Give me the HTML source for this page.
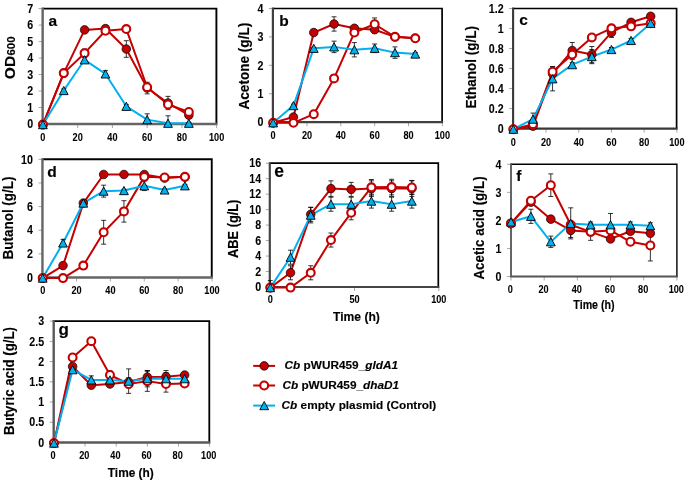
<!DOCTYPE html>
<html><head><meta charset="utf-8"><style>
html,body{margin:0;padding:0;background:#fff;width:685px;height:482px;overflow:hidden}
svg text{font-family:"Liberation Sans", sans-serif;fill:#000;stroke:#000;stroke-width:0.15px}
svg text.t{stroke-width:0.08px}
svg{will-change:transform}
</style></head><body>
<svg width="685" height="482" viewBox="0 0 685 482" style="position:absolute;left:0;top:0"><g><path d="M42.65 8.6 H216.4 V124" fill="none" stroke="#000" stroke-width="1.9"/><line x1="38.65" y1="124" x2="42.65" y2="124" stroke="#A8A8A8" stroke-width="1"/><line x1="38.65" y1="107.51" x2="42.65" y2="107.51" stroke="#A8A8A8" stroke-width="1"/><line x1="38.65" y1="91.03" x2="42.65" y2="91.03" stroke="#A8A8A8" stroke-width="1"/><line x1="38.65" y1="74.54" x2="42.65" y2="74.54" stroke="#A8A8A8" stroke-width="1"/><line x1="38.65" y1="58.06" x2="42.65" y2="58.06" stroke="#A8A8A8" stroke-width="1"/><line x1="38.65" y1="41.57" x2="42.65" y2="41.57" stroke="#A8A8A8" stroke-width="1"/><line x1="38.65" y1="25.09" x2="42.65" y2="25.09" stroke="#A8A8A8" stroke-width="1"/><line x1="38.65" y1="8.6" x2="42.65" y2="8.6" stroke="#A8A8A8" stroke-width="1"/><line x1="42.9" y1="124" x2="42.9" y2="128" stroke="#A8A8A8" stroke-width="1"/><line x1="77.65" y1="124" x2="77.65" y2="128" stroke="#A8A8A8" stroke-width="1"/><line x1="112.4" y1="124" x2="112.4" y2="128" stroke="#A8A8A8" stroke-width="1"/><line x1="147.15" y1="124" x2="147.15" y2="128" stroke="#A8A8A8" stroke-width="1"/><line x1="181.9" y1="124" x2="181.9" y2="128" stroke="#A8A8A8" stroke-width="1"/><line x1="216.65" y1="124" x2="216.65" y2="128" stroke="#A8A8A8" stroke-width="1"/><path d="M42.65 7.6 V124 H217.4" fill="none" stroke="#666" stroke-width="2.4"/><text transform="translate(33.15,128.2) scale(0.89,1)" class="t" text-anchor="end" font-size="12" font-weight="bold">0</text><text transform="translate(33.15,111.71) scale(0.89,1)" class="t" text-anchor="end" font-size="12" font-weight="bold">1</text><text transform="translate(33.15,95.23) scale(0.89,1)" class="t" text-anchor="end" font-size="12" font-weight="bold">2</text><text transform="translate(33.15,78.74) scale(0.89,1)" class="t" text-anchor="end" font-size="12" font-weight="bold">3</text><text transform="translate(33.15,62.26) scale(0.89,1)" class="t" text-anchor="end" font-size="12" font-weight="bold">4</text><text transform="translate(33.15,45.77) scale(0.89,1)" class="t" text-anchor="end" font-size="12" font-weight="bold">5</text><text transform="translate(33.15,29.29) scale(0.89,1)" class="t" text-anchor="end" font-size="12" font-weight="bold">6</text><text transform="translate(33.15,12.8) scale(0.89,1)" class="t" text-anchor="end" font-size="12" font-weight="bold">7</text><text transform="translate(42.9,140.9) scale(0.89,1)" class="t" text-anchor="middle" font-size="10.3" font-weight="bold">0</text><text transform="translate(77.65,140.9) scale(0.89,1)" class="t" text-anchor="middle" font-size="10.3" font-weight="bold">20</text><text transform="translate(112.4,140.9) scale(0.89,1)" class="t" text-anchor="middle" font-size="10.3" font-weight="bold">40</text><text transform="translate(147.15,140.9) scale(0.89,1)" class="t" text-anchor="middle" font-size="10.3" font-weight="bold">60</text><text transform="translate(181.9,140.9) scale(0.89,1)" class="t" text-anchor="middle" font-size="10.3" font-weight="bold">80</text><text transform="translate(216.65,140.9) scale(0.89,1)" class="t" text-anchor="middle" font-size="10.3" font-weight="bold">100</text><text x="48.6" y="25.8" font-size="15.5" font-weight="bold">a</text><text transform="translate(15,67.5) rotate(-90)" text-anchor="middle" font-weight="bold" font-size="15.5">OD</text><text transform="translate(15,46) rotate(-90)" text-anchor="middle" font-weight="bold" font-size="11.5">600</text><polyline points="42.9,124.6 63.75,73.1 84.6,29.9 105.45,28.57 126.3,49 147.15,88.05 168,103 188.85,115.13" fill="none" stroke="#C40000" stroke-width="2" stroke-linejoin="round"/><polyline points="42.9,124.6 63.75,73.1 84.6,53.16 105.45,30.73 126.3,29.07 147.15,87.22 168,104.5 188.85,111.97" fill="none" stroke="#C40000" stroke-width="2" stroke-linejoin="round"/><polyline points="42.9,124.6 63.75,90.54 84.6,59.8 105.45,73.93 126.3,106.32 147.15,119.62 168,123.27 188.85,123.27" fill="none" stroke="#00B0F0" stroke-width="2" stroke-linejoin="round"/><path d="M63.75 74.76 V71.43 M61.25 74.76 H66.25 M61.25 71.43 H66.25" stroke="#000" stroke-width="0.8" fill="none"/><path d="M84.6 31.56 V28.24 M82.1 31.56 H87.1 M82.1 28.24 H87.1" stroke="#000" stroke-width="0.8" fill="none"/><path d="M105.45 30.23 V26.91 M102.95 30.23 H107.95 M102.95 26.91 H107.95" stroke="#000" stroke-width="0.8" fill="none"/><path d="M126.3 57.31 V40.7 M123.8 57.31 H128.8 M123.8 40.7 H128.8" stroke="#000" stroke-width="0.8" fill="none"/><path d="M147.15 93.86 V82.23 M144.65 93.86 H149.65 M144.65 82.23 H149.65" stroke="#000" stroke-width="0.8" fill="none"/><path d="M168 109.65 V96.36 M165.5 109.65 H170.5 M165.5 96.36 H170.5" stroke="#000" stroke-width="0.8" fill="none"/><path d="M188.85 116.79 V113.47 M186.35 116.79 H191.35 M186.35 113.47 H191.35" stroke="#000" stroke-width="0.8" fill="none"/><path d="M63.75 74.76 V71.43 M61.25 74.76 H66.25 M61.25 71.43 H66.25" stroke="#000" stroke-width="0.8" fill="none"/><path d="M84.6 57.31 V49 M82.1 57.31 H87.1 M82.1 49 H87.1" stroke="#000" stroke-width="0.8" fill="none"/><path d="M105.45 33.22 V28.24 M102.95 33.22 H107.95 M102.95 28.24 H107.95" stroke="#000" stroke-width="0.8" fill="none"/><path d="M126.3 30.73 V27.41 M123.8 30.73 H128.8 M123.8 27.41 H128.8" stroke="#000" stroke-width="0.8" fill="none"/><path d="M147.15 88.88 V85.56 M144.65 88.88 H149.65 M144.65 85.56 H149.65" stroke="#000" stroke-width="0.8" fill="none"/><path d="M168 106.16 V102.84 M165.5 106.16 H170.5 M165.5 102.84 H170.5" stroke="#000" stroke-width="0.8" fill="none"/><path d="M188.85 113.63 V110.31 M186.35 113.63 H191.35 M186.35 110.31 H191.35" stroke="#000" stroke-width="0.8" fill="none"/><path d="M63.75 92.2 V88.88 M61.25 92.2 H66.25 M61.25 88.88 H66.25" stroke="#000" stroke-width="0.8" fill="none"/><path d="M84.6 62.3 V57.31 M82.1 62.3 H87.1 M82.1 57.31 H87.1" stroke="#000" stroke-width="0.8" fill="none"/><path d="M105.45 77.25 V70.6 M102.95 77.25 H107.95 M102.95 70.6 H107.95" stroke="#000" stroke-width="0.8" fill="none"/><path d="M126.3 107.99 V104.66 M123.8 107.99 H128.8 M123.8 104.66 H128.8" stroke="#000" stroke-width="0.8" fill="none"/><path d="M147.15 124.6 V113.8 M144.65 113.8 H149.65" stroke="#000" stroke-width="0.8" fill="none"/><path d="M168 124.6 V115.79 M165.5 115.79 H170.5" stroke="#000" stroke-width="0.8" fill="none"/><path d="M188.85 124.1 V122.44 M186.35 124.1 H191.35 M186.35 122.44 H191.35" stroke="#000" stroke-width="0.8" fill="none"/><circle cx="42.9" cy="124.6" r="4.3" fill="#C40000" stroke="#000" stroke-width="0.7"/><circle cx="63.75" cy="73.1" r="4.3" fill="#C40000" stroke="#000" stroke-width="0.7"/><circle cx="84.6" cy="29.9" r="4.3" fill="#C40000" stroke="#000" stroke-width="0.7"/><circle cx="105.45" cy="28.57" r="4.3" fill="#C40000" stroke="#000" stroke-width="0.7"/><circle cx="126.3" cy="49" r="4.3" fill="#C40000" stroke="#000" stroke-width="0.7"/><circle cx="147.15" cy="88.05" r="4.3" fill="#C40000" stroke="#000" stroke-width="0.7"/><circle cx="168" cy="103" r="4.3" fill="#C40000" stroke="#000" stroke-width="0.7"/><circle cx="188.85" cy="115.13" r="4.3" fill="#C40000" stroke="#000" stroke-width="0.7"/><circle cx="42.9" cy="124.6" r="3.95" fill="#fff" stroke="#C40000" stroke-width="2.1"/><circle cx="63.75" cy="73.1" r="3.95" fill="#fff" stroke="#C40000" stroke-width="2.1"/><circle cx="84.6" cy="53.16" r="3.95" fill="#fff" stroke="#C40000" stroke-width="2.1"/><circle cx="105.45" cy="30.73" r="3.95" fill="#fff" stroke="#C40000" stroke-width="2.1"/><circle cx="126.3" cy="29.07" r="3.95" fill="#fff" stroke="#C40000" stroke-width="2.1"/><circle cx="147.15" cy="87.22" r="3.95" fill="#fff" stroke="#C40000" stroke-width="2.1"/><circle cx="168" cy="104.5" r="3.95" fill="#fff" stroke="#C40000" stroke-width="2.1"/><circle cx="188.85" cy="111.97" r="3.95" fill="#fff" stroke="#C40000" stroke-width="2.1"/><path d="M42.9 120.5 L47.3 128.7 L38.5 128.7 Z" fill="#00B0F0" stroke="#000" stroke-width="0.9" stroke-linejoin="round"/><path d="M63.75 86.44 L68.15 94.64 L59.35 94.64 Z" fill="#00B0F0" stroke="#000" stroke-width="0.9" stroke-linejoin="round"/><path d="M84.6 55.7 L89 63.9 L80.2 63.9 Z" fill="#00B0F0" stroke="#000" stroke-width="0.9" stroke-linejoin="round"/><path d="M105.45 69.83 L109.85 78.03 L101.05 78.03 Z" fill="#00B0F0" stroke="#000" stroke-width="0.9" stroke-linejoin="round"/><path d="M126.3 102.22 L130.7 110.42 L121.9 110.42 Z" fill="#00B0F0" stroke="#000" stroke-width="0.9" stroke-linejoin="round"/><path d="M147.15 115.52 L151.55 123.72 L142.75 123.72 Z" fill="#00B0F0" stroke="#000" stroke-width="0.9" stroke-linejoin="round"/><path d="M168 119.17 L172.4 127.37 L163.6 127.37 Z" fill="#00B0F0" stroke="#000" stroke-width="0.9" stroke-linejoin="round"/><path d="M188.85 119.17 L193.25 127.37 L184.45 127.37 Z" fill="#00B0F0" stroke="#000" stroke-width="0.9" stroke-linejoin="round"/></g><g><path d="M272.9 8.5 H442.1 V122.2" fill="none" stroke="#000" stroke-width="1.7"/><line x1="268.9" y1="122.2" x2="272.9" y2="122.2" stroke="#A8A8A8" stroke-width="1"/><line x1="268.9" y1="93.78" x2="272.9" y2="93.78" stroke="#A8A8A8" stroke-width="1"/><line x1="268.9" y1="65.35" x2="272.9" y2="65.35" stroke="#A8A8A8" stroke-width="1"/><line x1="268.9" y1="36.92" x2="272.9" y2="36.92" stroke="#A8A8A8" stroke-width="1"/><line x1="268.9" y1="8.5" x2="272.9" y2="8.5" stroke="#A8A8A8" stroke-width="1"/><line x1="273.15" y1="122.2" x2="273.15" y2="126.2" stroke="#A8A8A8" stroke-width="1"/><line x1="306.99" y1="122.2" x2="306.99" y2="126.2" stroke="#A8A8A8" stroke-width="1"/><line x1="340.83" y1="122.2" x2="340.83" y2="126.2" stroke="#A8A8A8" stroke-width="1"/><line x1="374.67" y1="122.2" x2="374.67" y2="126.2" stroke="#A8A8A8" stroke-width="1"/><line x1="408.51" y1="122.2" x2="408.51" y2="126.2" stroke="#A8A8A8" stroke-width="1"/><line x1="442.35" y1="122.2" x2="442.35" y2="126.2" stroke="#A8A8A8" stroke-width="1"/><path d="M272.9 7.5 V122.2 H443.1" fill="none" stroke="#404040" stroke-width="2.2"/><text transform="translate(263.4,126.4) scale(0.89,1)" class="t" text-anchor="end" font-size="12" font-weight="bold">0</text><text transform="translate(263.4,97.98) scale(0.89,1)" class="t" text-anchor="end" font-size="12" font-weight="bold">1</text><text transform="translate(263.4,69.55) scale(0.89,1)" class="t" text-anchor="end" font-size="12" font-weight="bold">2</text><text transform="translate(263.4,41.12) scale(0.89,1)" class="t" text-anchor="end" font-size="12" font-weight="bold">3</text><text transform="translate(263.4,12.7) scale(0.89,1)" class="t" text-anchor="end" font-size="12" font-weight="bold">4</text><text transform="translate(273.15,139.1) scale(0.89,1)" class="t" text-anchor="middle" font-size="10.3" font-weight="bold">0</text><text transform="translate(306.99,139.1) scale(0.89,1)" class="t" text-anchor="middle" font-size="10.3" font-weight="bold">20</text><text transform="translate(340.83,139.1) scale(0.89,1)" class="t" text-anchor="middle" font-size="10.3" font-weight="bold">40</text><text transform="translate(374.67,139.1) scale(0.89,1)" class="t" text-anchor="middle" font-size="10.3" font-weight="bold">60</text><text transform="translate(408.51,139.1) scale(0.89,1)" class="t" text-anchor="middle" font-size="10.3" font-weight="bold">80</text><text transform="translate(442.35,139.1) scale(0.89,1)" class="t" text-anchor="middle" font-size="10.3" font-weight="bold">100</text><text x="279.3" y="25.5" font-size="15.5" font-weight="bold">b</text><text transform="translate(248.7,66.15) rotate(-90)" text-anchor="middle" font-size="14.5" font-weight="bold" textLength="86.8" lengthAdjust="spacingAndGlyphs">Acetone (g/L)</text><polyline points="273.15,122.8 293.45,117.07 313.76,32.55 334.06,23.96 354.37,28.26 374.67,29.69 394.97,36.85 415.28,38.28" fill="none" stroke="#C40000" stroke-width="2" stroke-linejoin="round"/><polyline points="273.15,122.8 293.45,122.8 313.76,114.2 334.06,78.39 354.37,32.55 374.67,24.24 394.97,36.85 415.28,38.28" fill="none" stroke="#C40000" stroke-width="2" stroke-linejoin="round"/><polyline points="273.15,122.8 293.45,105.61 313.76,48.31 334.06,46.88 354.37,49.74 374.67,48.31 394.97,52.61 415.28,54.04" fill="none" stroke="#00B0F0" stroke-width="2" stroke-linejoin="round"/><path d="M293.45 118.5 V115.64 M290.95 118.5 H295.95 M290.95 115.64 H295.95" stroke="#000" stroke-width="0.8" fill="none"/><path d="M313.76 35.42 V29.69 M311.26 35.42 H316.26 M311.26 29.69 H316.26" stroke="#000" stroke-width="0.8" fill="none"/><path d="M334.06 31.12 V16.8 M331.56 31.12 H336.56 M331.56 16.8 H336.56" stroke="#000" stroke-width="0.8" fill="none"/><path d="M354.37 31.12 V25.39 M351.87 31.12 H356.87 M351.87 25.39 H356.87" stroke="#000" stroke-width="0.8" fill="none"/><path d="M374.67 32.55 V26.82 M372.17 32.55 H377.17 M372.17 26.82 H377.17" stroke="#000" stroke-width="0.8" fill="none"/><path d="M394.97 39.72 V33.98 M392.47 39.72 H397.47 M392.47 33.98 H397.47" stroke="#000" stroke-width="0.8" fill="none"/><path d="M415.28 39.71 V36.85 M412.78 39.71 H417.78 M412.78 36.85 H417.78" stroke="#000" stroke-width="0.8" fill="none"/><path d="M313.76 115.64 V112.77 M311.26 115.64 H316.26 M311.26 112.77 H316.26" stroke="#000" stroke-width="0.8" fill="none"/><path d="M334.06 81.26 V75.53 M331.56 81.26 H336.56 M331.56 75.53 H336.56" stroke="#000" stroke-width="0.8" fill="none"/><path d="M354.37 35.42 V29.69 M351.87 35.42 H356.87 M351.87 29.69 H356.87" stroke="#000" stroke-width="0.8" fill="none"/><path d="M374.67 30.55 V17.94 M372.17 30.55 H377.17 M372.17 17.94 H377.17" stroke="#000" stroke-width="0.8" fill="none"/><path d="M394.97 39.72 V33.98 M392.47 39.72 H397.47 M392.47 33.98 H397.47" stroke="#000" stroke-width="0.8" fill="none"/><path d="M415.28 39.71 V36.85 M412.78 39.71 H417.78 M412.78 36.85 H417.78" stroke="#000" stroke-width="0.8" fill="none"/><path d="M293.45 107.04 V104.18 M290.95 107.04 H295.95 M290.95 104.18 H295.95" stroke="#000" stroke-width="0.8" fill="none"/><path d="M313.76 49.17 V47.45 M311.26 49.17 H316.26 M311.26 47.45 H316.26" stroke="#000" stroke-width="0.8" fill="none"/><path d="M334.06 52.61 V41.15 M331.56 52.61 H336.56 M331.56 41.15 H336.56" stroke="#000" stroke-width="0.8" fill="none"/><path d="M354.37 56.91 V42.58 M351.87 56.91 H356.87 M351.87 42.58 H356.87" stroke="#000" stroke-width="0.8" fill="none"/><path d="M374.67 52.61 V44.01 M372.17 52.61 H377.17 M372.17 44.01 H377.17" stroke="#000" stroke-width="0.8" fill="none"/><path d="M394.97 58.34 V46.88 M392.47 58.34 H397.47 M392.47 46.88 H397.47" stroke="#000" stroke-width="0.8" fill="none"/><path d="M415.28 55.47 V52.61 M412.78 55.47 H417.78 M412.78 52.61 H417.78" stroke="#000" stroke-width="0.8" fill="none"/><circle cx="273.15" cy="122.8" r="4.3" fill="#C40000" stroke="#000" stroke-width="0.7"/><circle cx="293.45" cy="117.07" r="4.3" fill="#C40000" stroke="#000" stroke-width="0.7"/><circle cx="313.76" cy="32.55" r="4.3" fill="#C40000" stroke="#000" stroke-width="0.7"/><circle cx="334.06" cy="23.96" r="4.3" fill="#C40000" stroke="#000" stroke-width="0.7"/><circle cx="354.37" cy="28.26" r="4.3" fill="#C40000" stroke="#000" stroke-width="0.7"/><circle cx="374.67" cy="29.69" r="4.3" fill="#C40000" stroke="#000" stroke-width="0.7"/><circle cx="394.97" cy="36.85" r="4.3" fill="#C40000" stroke="#000" stroke-width="0.7"/><circle cx="415.28" cy="38.28" r="4.3" fill="#C40000" stroke="#000" stroke-width="0.7"/><circle cx="273.15" cy="122.8" r="3.95" fill="#fff" stroke="#C40000" stroke-width="2.1"/><circle cx="293.45" cy="122.8" r="3.95" fill="#fff" stroke="#C40000" stroke-width="2.1"/><circle cx="313.76" cy="114.2" r="3.95" fill="#fff" stroke="#C40000" stroke-width="2.1"/><circle cx="334.06" cy="78.39" r="3.95" fill="#fff" stroke="#C40000" stroke-width="2.1"/><circle cx="354.37" cy="32.55" r="3.95" fill="#fff" stroke="#C40000" stroke-width="2.1"/><circle cx="374.67" cy="24.24" r="3.95" fill="#fff" stroke="#C40000" stroke-width="2.1"/><circle cx="394.97" cy="36.85" r="3.95" fill="#fff" stroke="#C40000" stroke-width="2.1"/><circle cx="415.28" cy="38.28" r="3.95" fill="#fff" stroke="#C40000" stroke-width="2.1"/><path d="M273.15 118.7 L277.55 126.9 L268.75 126.9 Z" fill="#00B0F0" stroke="#000" stroke-width="0.9" stroke-linejoin="round"/><path d="M293.45 101.51 L297.85 109.71 L289.05 109.71 Z" fill="#00B0F0" stroke="#000" stroke-width="0.9" stroke-linejoin="round"/><path d="M313.76 44.21 L318.16 52.41 L309.36 52.41 Z" fill="#00B0F0" stroke="#000" stroke-width="0.9" stroke-linejoin="round"/><path d="M334.06 42.78 L338.46 50.98 L329.66 50.98 Z" fill="#00B0F0" stroke="#000" stroke-width="0.9" stroke-linejoin="round"/><path d="M354.37 45.64 L358.77 53.84 L349.97 53.84 Z" fill="#00B0F0" stroke="#000" stroke-width="0.9" stroke-linejoin="round"/><path d="M374.67 44.21 L379.07 52.41 L370.27 52.41 Z" fill="#00B0F0" stroke="#000" stroke-width="0.9" stroke-linejoin="round"/><path d="M394.97 48.51 L399.37 56.71 L390.57 56.71 Z" fill="#00B0F0" stroke="#000" stroke-width="0.9" stroke-linejoin="round"/><path d="M415.28 49.94 L419.68 58.14 L410.88 58.14 Z" fill="#00B0F0" stroke="#000" stroke-width="0.9" stroke-linejoin="round"/></g><g><path d="M513.1 8.5 H676.6 V128.6" fill="none" stroke="#000" stroke-width="1.7"/><line x1="509.1" y1="128.6" x2="513.1" y2="128.6" stroke="#A8A8A8" stroke-width="1"/><line x1="509.1" y1="108.58" x2="513.1" y2="108.58" stroke="#A8A8A8" stroke-width="1"/><line x1="509.1" y1="88.57" x2="513.1" y2="88.57" stroke="#A8A8A8" stroke-width="1"/><line x1="509.1" y1="68.55" x2="513.1" y2="68.55" stroke="#A8A8A8" stroke-width="1"/><line x1="509.1" y1="48.53" x2="513.1" y2="48.53" stroke="#A8A8A8" stroke-width="1"/><line x1="509.1" y1="28.52" x2="513.1" y2="28.52" stroke="#A8A8A8" stroke-width="1"/><line x1="509.1" y1="8.5" x2="513.1" y2="8.5" stroke="#A8A8A8" stroke-width="1"/><line x1="513.35" y1="128.6" x2="513.35" y2="132.6" stroke="#A8A8A8" stroke-width="1"/><line x1="546.05" y1="128.6" x2="546.05" y2="132.6" stroke="#A8A8A8" stroke-width="1"/><line x1="578.75" y1="128.6" x2="578.75" y2="132.6" stroke="#A8A8A8" stroke-width="1"/><line x1="611.45" y1="128.6" x2="611.45" y2="132.6" stroke="#A8A8A8" stroke-width="1"/><line x1="644.15" y1="128.6" x2="644.15" y2="132.6" stroke="#A8A8A8" stroke-width="1"/><line x1="676.85" y1="128.6" x2="676.85" y2="132.6" stroke="#A8A8A8" stroke-width="1"/><path d="M513.1 7.5 V128.6 H677.6" fill="none" stroke="#383838" stroke-width="2.1"/><text transform="translate(503.6,132.8) scale(0.89,1)" class="t" text-anchor="end" font-size="12" font-weight="bold">0</text><text transform="translate(503.6,112.78) scale(0.89,1)" class="t" text-anchor="end" font-size="12" font-weight="bold">0.2</text><text transform="translate(503.6,92.77) scale(0.89,1)" class="t" text-anchor="end" font-size="12" font-weight="bold">0.4</text><text transform="translate(503.6,72.75) scale(0.89,1)" class="t" text-anchor="end" font-size="12" font-weight="bold">0.6</text><text transform="translate(503.6,52.73) scale(0.89,1)" class="t" text-anchor="end" font-size="12" font-weight="bold">0.8</text><text transform="translate(503.6,32.72) scale(0.89,1)" class="t" text-anchor="end" font-size="12" font-weight="bold">1</text><text transform="translate(503.6,12.7) scale(0.89,1)" class="t" text-anchor="end" font-size="12" font-weight="bold">1.2</text><text transform="translate(513.35,145.5) scale(0.89,1)" class="t" text-anchor="middle" font-size="10.3" font-weight="bold">0</text><text transform="translate(546.05,145.5) scale(0.89,1)" class="t" text-anchor="middle" font-size="10.3" font-weight="bold">20</text><text transform="translate(578.75,145.5) scale(0.89,1)" class="t" text-anchor="middle" font-size="10.3" font-weight="bold">40</text><text transform="translate(611.45,145.5) scale(0.89,1)" class="t" text-anchor="middle" font-size="10.3" font-weight="bold">60</text><text transform="translate(644.15,145.5) scale(0.89,1)" class="t" text-anchor="middle" font-size="10.3" font-weight="bold">80</text><text transform="translate(676.85,145.5) scale(0.89,1)" class="t" text-anchor="middle" font-size="10.3" font-weight="bold">100</text><text x="519.3" y="24.9" font-size="15.5" font-weight="bold">c</text><text transform="translate(475.5,67.25) rotate(-90)" text-anchor="middle" font-size="14.5" font-weight="bold" textLength="82.3" lengthAdjust="spacingAndGlyphs">Ethanol (g/L)</text><polyline points="513.35,129.2 532.97,126.17 552.59,73.74 572.21,50.55 591.83,54.58 611.45,32.4 631.07,22.32 650.69,16.27" fill="none" stroke="#C40000" stroke-width="2" stroke-linejoin="round"/><polyline points="513.35,129.2 532.97,124.16 552.59,71.72 572.21,54.58 591.83,37.44 611.45,28.37 631.07,26.35 650.69,23.32" fill="none" stroke="#C40000" stroke-width="2" stroke-linejoin="round"/><polyline points="513.35,129.2 532.97,119.12 552.59,78.78 572.21,64.67 591.83,56.6 611.45,49.54 631.07,40.47 650.69,23.32" fill="none" stroke="#00B0F0" stroke-width="2" stroke-linejoin="round"/><path d="M532.97 128.19 V124.16 M530.47 128.19 H535.47 M530.47 124.16 H535.47" stroke="#000" stroke-width="0.8" fill="none"/><path d="M552.59 78.78 V68.7 M550.09 78.78 H555.09 M550.09 68.7 H555.09" stroke="#000" stroke-width="0.8" fill="none"/><path d="M572.21 58.62 V42.48 M569.71 58.62 H574.71 M569.71 42.48 H574.71" stroke="#000" stroke-width="0.8" fill="none"/><path d="M591.83 62.65 V46.52 M589.33 62.65 H594.33 M589.33 46.52 H594.33" stroke="#000" stroke-width="0.8" fill="none"/><path d="M611.45 37.44 V27.36 M608.95 37.44 H613.95 M608.95 27.36 H613.95" stroke="#000" stroke-width="0.8" fill="none"/><path d="M631.07 24.33 V20.3 M628.57 24.33 H633.57 M628.57 20.3 H633.57" stroke="#000" stroke-width="0.8" fill="none"/><path d="M650.69 18.28 V14.25 M648.19 18.28 H653.19 M648.19 14.25 H653.19" stroke="#000" stroke-width="0.8" fill="none"/><path d="M532.97 126.17 V122.14 M530.47 126.17 H535.47 M530.47 122.14 H535.47" stroke="#000" stroke-width="0.8" fill="none"/><path d="M552.59 76.77 V66.68 M550.09 76.77 H555.09 M550.09 66.68 H555.09" stroke="#000" stroke-width="0.8" fill="none"/><path d="M572.21 59.62 V49.54 M569.71 59.62 H574.71 M569.71 49.54 H574.71" stroke="#000" stroke-width="0.8" fill="none"/><path d="M591.83 39.46 V35.42 M589.33 39.46 H594.33 M589.33 35.42 H594.33" stroke="#000" stroke-width="0.8" fill="none"/><path d="M611.45 30.38 V26.35 M608.95 30.38 H613.95 M608.95 26.35 H613.95" stroke="#000" stroke-width="0.8" fill="none"/><path d="M631.07 28.37 V24.33 M628.57 28.37 H633.57 M628.57 24.33 H633.57" stroke="#000" stroke-width="0.8" fill="none"/><path d="M650.69 25.34 V21.31 M648.19 25.34 H653.19 M648.19 21.31 H653.19" stroke="#000" stroke-width="0.8" fill="none"/><path d="M532.97 125.17 V113.07 M530.47 125.17 H535.47 M530.47 113.07 H535.47" stroke="#000" stroke-width="0.8" fill="none"/><path d="M552.59 90.88 V66.68 M550.09 90.88 H555.09 M550.09 66.68 H555.09" stroke="#000" stroke-width="0.8" fill="none"/><path d="M572.21 66.68 V62.65 M569.71 66.68 H574.71 M569.71 62.65 H574.71" stroke="#000" stroke-width="0.8" fill="none"/><path d="M591.83 63.66 V49.54 M589.33 63.66 H594.33 M589.33 49.54 H594.33" stroke="#000" stroke-width="0.8" fill="none"/><path d="M611.45 51.56 V47.52 M608.95 51.56 H613.95 M608.95 47.52 H613.95" stroke="#000" stroke-width="0.8" fill="none"/><path d="M631.07 42.48 V38.45 M628.57 42.48 H633.57 M628.57 38.45 H633.57" stroke="#000" stroke-width="0.8" fill="none"/><path d="M650.69 25.34 V21.31 M648.19 25.34 H653.19 M648.19 21.31 H653.19" stroke="#000" stroke-width="0.8" fill="none"/><circle cx="513.35" cy="129.2" r="4.3" fill="#C40000" stroke="#000" stroke-width="0.7"/><circle cx="532.97" cy="126.17" r="4.3" fill="#C40000" stroke="#000" stroke-width="0.7"/><circle cx="552.59" cy="73.74" r="4.3" fill="#C40000" stroke="#000" stroke-width="0.7"/><circle cx="572.21" cy="50.55" r="4.3" fill="#C40000" stroke="#000" stroke-width="0.7"/><circle cx="591.83" cy="54.58" r="4.3" fill="#C40000" stroke="#000" stroke-width="0.7"/><circle cx="611.45" cy="32.4" r="4.3" fill="#C40000" stroke="#000" stroke-width="0.7"/><circle cx="631.07" cy="22.32" r="4.3" fill="#C40000" stroke="#000" stroke-width="0.7"/><circle cx="650.69" cy="16.27" r="4.3" fill="#C40000" stroke="#000" stroke-width="0.7"/><circle cx="513.35" cy="129.2" r="3.95" fill="#fff" stroke="#C40000" stroke-width="2.1"/><circle cx="532.97" cy="124.16" r="3.95" fill="#fff" stroke="#C40000" stroke-width="2.1"/><circle cx="552.59" cy="71.72" r="3.95" fill="#fff" stroke="#C40000" stroke-width="2.1"/><circle cx="572.21" cy="54.58" r="3.95" fill="#fff" stroke="#C40000" stroke-width="2.1"/><circle cx="591.83" cy="37.44" r="3.95" fill="#fff" stroke="#C40000" stroke-width="2.1"/><circle cx="611.45" cy="28.37" r="3.95" fill="#fff" stroke="#C40000" stroke-width="2.1"/><circle cx="631.07" cy="26.35" r="3.95" fill="#fff" stroke="#C40000" stroke-width="2.1"/><circle cx="650.69" cy="23.32" r="3.95" fill="#fff" stroke="#C40000" stroke-width="2.1"/><path d="M513.35 125.1 L517.75 133.3 L508.95 133.3 Z" fill="#00B0F0" stroke="#000" stroke-width="0.9" stroke-linejoin="round"/><path d="M532.97 115.02 L537.37 123.22 L528.57 123.22 Z" fill="#00B0F0" stroke="#000" stroke-width="0.9" stroke-linejoin="round"/><path d="M552.59 74.68 L556.99 82.88 L548.19 82.88 Z" fill="#00B0F0" stroke="#000" stroke-width="0.9" stroke-linejoin="round"/><path d="M572.21 60.57 L576.61 68.77 L567.81 68.77 Z" fill="#00B0F0" stroke="#000" stroke-width="0.9" stroke-linejoin="round"/><path d="M591.83 52.5 L596.23 60.7 L587.43 60.7 Z" fill="#00B0F0" stroke="#000" stroke-width="0.9" stroke-linejoin="round"/><path d="M611.45 45.44 L615.85 53.64 L607.05 53.64 Z" fill="#00B0F0" stroke="#000" stroke-width="0.9" stroke-linejoin="round"/><path d="M631.07 36.37 L635.47 44.57 L626.67 44.57 Z" fill="#00B0F0" stroke="#000" stroke-width="0.9" stroke-linejoin="round"/><path d="M650.69 19.22 L655.09 27.42 L646.29 27.42 Z" fill="#00B0F0" stroke="#000" stroke-width="0.9" stroke-linejoin="round"/></g><g><path d="M42.45 159.3 H211.75 V277.5" fill="none" stroke="#000" stroke-width="1.9"/><line x1="38.45" y1="277.5" x2="42.45" y2="277.5" stroke="#A8A8A8" stroke-width="1"/><line x1="38.45" y1="253.86" x2="42.45" y2="253.86" stroke="#A8A8A8" stroke-width="1"/><line x1="38.45" y1="230.22" x2="42.45" y2="230.22" stroke="#A8A8A8" stroke-width="1"/><line x1="38.45" y1="206.58" x2="42.45" y2="206.58" stroke="#A8A8A8" stroke-width="1"/><line x1="38.45" y1="182.94" x2="42.45" y2="182.94" stroke="#A8A8A8" stroke-width="1"/><line x1="38.45" y1="159.3" x2="42.45" y2="159.3" stroke="#A8A8A8" stroke-width="1"/><line x1="42.7" y1="277.5" x2="42.7" y2="281.5" stroke="#A8A8A8" stroke-width="1"/><line x1="76.56" y1="277.5" x2="76.56" y2="281.5" stroke="#A8A8A8" stroke-width="1"/><line x1="110.42" y1="277.5" x2="110.42" y2="281.5" stroke="#A8A8A8" stroke-width="1"/><line x1="144.28" y1="277.5" x2="144.28" y2="281.5" stroke="#A8A8A8" stroke-width="1"/><line x1="178.14" y1="277.5" x2="178.14" y2="281.5" stroke="#A8A8A8" stroke-width="1"/><line x1="212" y1="277.5" x2="212" y2="281.5" stroke="#A8A8A8" stroke-width="1"/><path d="M42.45 158.3 V277.5 H212.75" fill="none" stroke="#666" stroke-width="2.4"/><text transform="translate(32.95,281.7) scale(0.89,1)" class="t" text-anchor="end" font-size="12" font-weight="bold">0</text><text transform="translate(32.95,258.06) scale(0.89,1)" class="t" text-anchor="end" font-size="12" font-weight="bold">2</text><text transform="translate(32.95,234.42) scale(0.89,1)" class="t" text-anchor="end" font-size="12" font-weight="bold">4</text><text transform="translate(32.95,210.78) scale(0.89,1)" class="t" text-anchor="end" font-size="12" font-weight="bold">6</text><text transform="translate(32.95,187.14) scale(0.89,1)" class="t" text-anchor="end" font-size="12" font-weight="bold">8</text><text transform="translate(32.95,163.5) scale(0.89,1)" class="t" text-anchor="end" font-size="12" font-weight="bold">10</text><text transform="translate(42.7,294.4) scale(0.89,1)" class="t" text-anchor="middle" font-size="10.3" font-weight="bold">0</text><text transform="translate(76.56,294.4) scale(0.89,1)" class="t" text-anchor="middle" font-size="10.3" font-weight="bold">20</text><text transform="translate(110.42,294.4) scale(0.89,1)" class="t" text-anchor="middle" font-size="10.3" font-weight="bold">40</text><text transform="translate(144.28,294.4) scale(0.89,1)" class="t" text-anchor="middle" font-size="10.3" font-weight="bold">60</text><text transform="translate(178.14,294.4) scale(0.89,1)" class="t" text-anchor="middle" font-size="10.3" font-weight="bold">80</text><text transform="translate(212,294.4) scale(0.89,1)" class="t" text-anchor="middle" font-size="10.3" font-weight="bold">100</text><text x="47.2" y="176.8" font-size="15.5" font-weight="bold">d</text><text transform="translate(13.3,218.0) rotate(-90)" text-anchor="middle" font-size="14.5" font-weight="bold" textLength="83.2" lengthAdjust="spacingAndGlyphs">Butanol (g/L)</text><polyline points="42.7,278.1 63.02,265.59 83.33,203.07 103.65,174.48 123.96,174.48 144.28,174.48 164.6,178.06 184.91,176.87" fill="none" stroke="#C40000" stroke-width="2" stroke-linejoin="round"/><polyline points="42.7,278.1 63.02,278.1 83.33,265.59 103.65,232.25 123.96,211.4 144.28,176.87 164.6,177.46 184.91,176.87" fill="none" stroke="#C40000" stroke-width="2" stroke-linejoin="round"/><polyline points="42.7,278.1 63.02,242.97 83.33,203.07 103.65,191.16 123.96,190.56 144.28,185.8 164.6,189.97 184.91,185.8" fill="none" stroke="#00B0F0" stroke-width="2" stroke-linejoin="round"/><path d="M63.02 266.79 V264.4 M60.52 266.79 H65.52 M60.52 264.4 H65.52" stroke="#000" stroke-width="0.8" fill="none"/><path d="M83.33 204.26 V201.88 M80.83 204.26 H85.83 M80.83 201.88 H85.83" stroke="#000" stroke-width="0.8" fill="none"/><path d="M103.65 175.67 V173.29 M101.15 175.67 H106.15 M101.15 173.29 H106.15" stroke="#000" stroke-width="0.8" fill="none"/><path d="M123.96 175.67 V173.29 M121.46 175.67 H126.46 M121.46 173.29 H126.46" stroke="#000" stroke-width="0.8" fill="none"/><path d="M144.28 175.67 V173.29 M141.78 175.67 H146.78 M141.78 173.29 H146.78" stroke="#000" stroke-width="0.8" fill="none"/><path d="M164.6 179.25 V176.87 M162.1 179.25 H167.1 M162.1 176.87 H167.1" stroke="#000" stroke-width="0.8" fill="none"/><path d="M184.91 178.06 V175.67 M182.41 178.06 H187.41 M182.41 175.67 H187.41" stroke="#000" stroke-width="0.8" fill="none"/><path d="M83.33 266.79 V264.4 M80.83 266.79 H85.83 M80.83 264.4 H85.83" stroke="#000" stroke-width="0.8" fill="none"/><path d="M103.65 244.16 V220.34 M101.15 244.16 H106.15 M101.15 220.34 H106.15" stroke="#000" stroke-width="0.8" fill="none"/><path d="M123.96 222.12 V200.69 M121.46 222.12 H126.46 M121.46 200.69 H126.46" stroke="#000" stroke-width="0.8" fill="none"/><path d="M144.28 179.25 V174.48 M141.78 179.25 H146.78 M141.78 174.48 H146.78" stroke="#000" stroke-width="0.8" fill="none"/><path d="M164.6 178.65 V176.27 M162.1 178.65 H167.1 M162.1 176.27 H167.1" stroke="#000" stroke-width="0.8" fill="none"/><path d="M184.91 178.06 V175.67 M182.41 178.06 H187.41 M182.41 175.67 H187.41" stroke="#000" stroke-width="0.8" fill="none"/><path d="M63.02 246.54 V239.39 M60.52 246.54 H65.52 M60.52 239.39 H65.52" stroke="#000" stroke-width="0.8" fill="none"/><path d="M83.33 204.26 V201.88 M80.83 204.26 H85.83 M80.83 201.88 H85.83" stroke="#000" stroke-width="0.8" fill="none"/><path d="M103.65 197.11 V185.2 M101.15 197.11 H106.15 M101.15 185.2 H106.15" stroke="#000" stroke-width="0.8" fill="none"/><path d="M123.96 191.75 V189.37 M121.46 191.75 H126.46 M121.46 189.37 H126.46" stroke="#000" stroke-width="0.8" fill="none"/><path d="M144.28 190.56 V181.03 M141.78 190.56 H146.78 M141.78 181.03 H146.78" stroke="#000" stroke-width="0.8" fill="none"/><path d="M164.6 191.16 V188.78 M162.1 191.16 H167.1 M162.1 188.78 H167.1" stroke="#000" stroke-width="0.8" fill="none"/><path d="M184.91 186.99 V184.61 M182.41 186.99 H187.41 M182.41 184.61 H187.41" stroke="#000" stroke-width="0.8" fill="none"/><circle cx="42.7" cy="278.1" r="4.3" fill="#C40000" stroke="#000" stroke-width="0.7"/><circle cx="63.02" cy="265.59" r="4.3" fill="#C40000" stroke="#000" stroke-width="0.7"/><circle cx="83.33" cy="203.07" r="4.3" fill="#C40000" stroke="#000" stroke-width="0.7"/><circle cx="103.65" cy="174.48" r="4.3" fill="#C40000" stroke="#000" stroke-width="0.7"/><circle cx="123.96" cy="174.48" r="4.3" fill="#C40000" stroke="#000" stroke-width="0.7"/><circle cx="144.28" cy="174.48" r="4.3" fill="#C40000" stroke="#000" stroke-width="0.7"/><circle cx="164.6" cy="178.06" r="4.3" fill="#C40000" stroke="#000" stroke-width="0.7"/><circle cx="184.91" cy="176.87" r="4.3" fill="#C40000" stroke="#000" stroke-width="0.7"/><circle cx="42.7" cy="278.1" r="3.95" fill="#fff" stroke="#C40000" stroke-width="2.1"/><circle cx="63.02" cy="278.1" r="3.95" fill="#fff" stroke="#C40000" stroke-width="2.1"/><circle cx="83.33" cy="265.59" r="3.95" fill="#fff" stroke="#C40000" stroke-width="2.1"/><circle cx="103.65" cy="232.25" r="3.95" fill="#fff" stroke="#C40000" stroke-width="2.1"/><circle cx="123.96" cy="211.4" r="3.95" fill="#fff" stroke="#C40000" stroke-width="2.1"/><circle cx="144.28" cy="176.87" r="3.95" fill="#fff" stroke="#C40000" stroke-width="2.1"/><circle cx="164.6" cy="177.46" r="3.95" fill="#fff" stroke="#C40000" stroke-width="2.1"/><circle cx="184.91" cy="176.87" r="3.95" fill="#fff" stroke="#C40000" stroke-width="2.1"/><path d="M42.7 274 L47.1 282.2 L38.3 282.2 Z" fill="#00B0F0" stroke="#000" stroke-width="0.9" stroke-linejoin="round"/><path d="M63.02 238.87 L67.42 247.07 L58.62 247.07 Z" fill="#00B0F0" stroke="#000" stroke-width="0.9" stroke-linejoin="round"/><path d="M83.33 198.97 L87.73 207.17 L78.93 207.17 Z" fill="#00B0F0" stroke="#000" stroke-width="0.9" stroke-linejoin="round"/><path d="M103.65 187.06 L108.05 195.26 L99.25 195.26 Z" fill="#00B0F0" stroke="#000" stroke-width="0.9" stroke-linejoin="round"/><path d="M123.96 186.46 L128.36 194.66 L119.56 194.66 Z" fill="#00B0F0" stroke="#000" stroke-width="0.9" stroke-linejoin="round"/><path d="M144.28 181.7 L148.68 189.9 L139.88 189.9 Z" fill="#00B0F0" stroke="#000" stroke-width="0.9" stroke-linejoin="round"/><path d="M164.6 185.87 L169 194.07 L160.2 194.07 Z" fill="#00B0F0" stroke="#000" stroke-width="0.9" stroke-linejoin="round"/><path d="M184.91 181.7 L189.31 189.9 L180.51 189.9 Z" fill="#00B0F0" stroke="#000" stroke-width="0.9" stroke-linejoin="round"/></g><g><path d="M269.8 163.2 H438.3 V287" fill="none" stroke="#000" stroke-width="1.7"/><line x1="265.8" y1="287" x2="269.8" y2="287" stroke="#A8A8A8" stroke-width="1"/><line x1="265.8" y1="271.52" x2="269.8" y2="271.52" stroke="#A8A8A8" stroke-width="1"/><line x1="265.8" y1="256.05" x2="269.8" y2="256.05" stroke="#A8A8A8" stroke-width="1"/><line x1="265.8" y1="240.57" x2="269.8" y2="240.57" stroke="#A8A8A8" stroke-width="1"/><line x1="265.8" y1="225.1" x2="269.8" y2="225.1" stroke="#A8A8A8" stroke-width="1"/><line x1="265.8" y1="209.62" x2="269.8" y2="209.62" stroke="#A8A8A8" stroke-width="1"/><line x1="265.8" y1="194.15" x2="269.8" y2="194.15" stroke="#A8A8A8" stroke-width="1"/><line x1="265.8" y1="178.67" x2="269.8" y2="178.67" stroke="#A8A8A8" stroke-width="1"/><line x1="265.8" y1="163.2" x2="269.8" y2="163.2" stroke="#A8A8A8" stroke-width="1"/><line x1="270.3" y1="287" x2="270.3" y2="291" stroke="#A8A8A8" stroke-width="1"/><line x1="354.55" y1="287" x2="354.55" y2="291" stroke="#A8A8A8" stroke-width="1"/><line x1="438.8" y1="287" x2="438.8" y2="291" stroke="#A8A8A8" stroke-width="1"/><path d="M269.8 162.2 V287 H439.3" fill="none" stroke="#454545" stroke-width="2.2"/><text transform="translate(261.2,291.2) scale(0.89,1)" class="t" text-anchor="end" font-size="12" font-weight="bold">0</text><text transform="translate(261.2,275.72) scale(0.89,1)" class="t" text-anchor="end" font-size="12" font-weight="bold">2</text><text transform="translate(261.2,260.25) scale(0.89,1)" class="t" text-anchor="end" font-size="12" font-weight="bold">4</text><text transform="translate(261.2,244.77) scale(0.89,1)" class="t" text-anchor="end" font-size="12" font-weight="bold">6</text><text transform="translate(261.2,229.3) scale(0.89,1)" class="t" text-anchor="end" font-size="12" font-weight="bold">8</text><text transform="translate(261.2,213.82) scale(0.89,1)" class="t" text-anchor="end" font-size="12" font-weight="bold">10</text><text transform="translate(261.2,198.35) scale(0.89,1)" class="t" text-anchor="end" font-size="12" font-weight="bold">12</text><text transform="translate(261.2,182.87) scale(0.89,1)" class="t" text-anchor="end" font-size="12" font-weight="bold">14</text><text transform="translate(261.2,167.4) scale(0.89,1)" class="t" text-anchor="end" font-size="12" font-weight="bold">16</text><text transform="translate(270.3,303.4) scale(0.89,1)" class="t" text-anchor="middle" font-size="10.3" font-weight="bold">0</text><text transform="translate(354.55,303.4) scale(0.89,1)" class="t" text-anchor="middle" font-size="10.3" font-weight="bold">50</text><text transform="translate(438.8,303.4) scale(0.89,1)" class="t" text-anchor="middle" font-size="10.3" font-weight="bold">100</text><text x="274.3" y="177.3" font-size="17.5" font-weight="bold">e</text><text transform="translate(238.3,228.8) rotate(-90)" text-anchor="middle" font-size="14.5" font-weight="bold" textLength="58.2" lengthAdjust="spacingAndGlyphs">ABE (g/L)</text><text x="356.5" y="320.6" text-anchor="middle" font-size="12" font-weight="bold" textLength="46.8" lengthAdjust="spacingAndGlyphs">Time (h)</text><polyline points="270.3,287.6 290.52,272.79 310.74,214.34 330.96,188.62 351.18,189.4 371.4,188.62 391.62,188.62 411.84,188.62" fill="none" stroke="#C40000" stroke-width="2" stroke-linejoin="round"/><polyline points="270.3,287.6 290.52,287.6 310.74,272.79 330.96,240.06 351.18,212.78 371.4,187.29 391.62,187.06 411.84,187.45" fill="none" stroke="#C40000" stroke-width="2" stroke-linejoin="round"/><polyline points="270.3,287.6 290.52,257.2 310.74,215.12 330.96,204.21 351.18,204.21 371.4,201.09 391.62,204.21 411.84,201.09" fill="none" stroke="#00B0F0" stroke-width="2" stroke-linejoin="round"/><path d="M290.52 279.81 V265.78 M288.02 279.81 H293.02 M288.02 265.78 H293.02" stroke="#000" stroke-width="0.8" fill="none"/><path d="M310.74 221.35 V207.32 M308.24 221.35 H313.24 M308.24 207.32 H313.24" stroke="#000" stroke-width="0.8" fill="none"/><path d="M330.96 196.41 V180.83 M328.46 196.41 H333.46 M328.46 180.83 H333.46" stroke="#000" stroke-width="0.8" fill="none"/><path d="M351.18 196.41 V182.38 M348.68 196.41 H353.68 M348.68 182.38 H353.68" stroke="#000" stroke-width="0.8" fill="none"/><path d="M371.4 196.41 V180.83 M368.9 196.41 H373.9 M368.9 180.83 H373.9" stroke="#000" stroke-width="0.8" fill="none"/><path d="M391.62 196.41 V180.83 M389.12 196.41 H394.12 M389.12 180.83 H394.12" stroke="#000" stroke-width="0.8" fill="none"/><path d="M411.84 196.41 V180.83 M409.34 196.41 H414.34 M409.34 180.83 H414.34" stroke="#000" stroke-width="0.8" fill="none"/><path d="M310.74 279.81 V265.78 M308.24 279.81 H313.24 M308.24 265.78 H313.24" stroke="#000" stroke-width="0.8" fill="none"/><path d="M330.96 247.07 V233.04 M328.46 247.07 H333.46 M328.46 233.04 H333.46" stroke="#000" stroke-width="0.8" fill="none"/><path d="M351.18 219.79 V205.77 M348.68 219.79 H353.68 M348.68 205.77 H353.68" stroke="#000" stroke-width="0.8" fill="none"/><path d="M371.4 195.09 V179.5 M368.9 195.09 H373.9 M368.9 179.5 H373.9" stroke="#000" stroke-width="0.8" fill="none"/><path d="M391.62 194.85 V179.27 M389.12 194.85 H394.12 M389.12 179.27 H394.12" stroke="#000" stroke-width="0.8" fill="none"/><path d="M411.84 194.46 V180.44 M409.34 194.46 H414.34 M409.34 180.44 H414.34" stroke="#000" stroke-width="0.8" fill="none"/><path d="M270.3 287.6 V280.59 M267.8 280.59 H272.8" stroke="#000" stroke-width="0.8" fill="none"/><path d="M290.52 264.22 V250.19 M288.02 264.22 H293.02 M288.02 250.19 H293.02" stroke="#000" stroke-width="0.8" fill="none"/><path d="M310.74 222.91 V207.32 M308.24 222.91 H313.24 M308.24 207.32 H313.24" stroke="#000" stroke-width="0.8" fill="none"/><path d="M330.96 211.22 V197.19 M328.46 211.22 H333.46 M328.46 197.19 H333.46" stroke="#000" stroke-width="0.8" fill="none"/><path d="M351.18 211.22 V197.19 M348.68 211.22 H353.68 M348.68 197.19 H353.68" stroke="#000" stroke-width="0.8" fill="none"/><path d="M371.4 208.1 V194.07 M368.9 208.1 H373.9 M368.9 194.07 H373.9" stroke="#000" stroke-width="0.8" fill="none"/><path d="M391.62 211.22 V197.19 M389.12 211.22 H394.12 M389.12 197.19 H394.12" stroke="#000" stroke-width="0.8" fill="none"/><path d="M411.84 208.1 V194.07 M409.34 208.1 H414.34 M409.34 194.07 H414.34" stroke="#000" stroke-width="0.8" fill="none"/><circle cx="270.3" cy="287.6" r="4.3" fill="#C40000" stroke="#000" stroke-width="0.7"/><circle cx="290.52" cy="272.79" r="4.3" fill="#C40000" stroke="#000" stroke-width="0.7"/><circle cx="310.74" cy="214.34" r="4.3" fill="#C40000" stroke="#000" stroke-width="0.7"/><circle cx="330.96" cy="188.62" r="4.3" fill="#C40000" stroke="#000" stroke-width="0.7"/><circle cx="351.18" cy="189.4" r="4.3" fill="#C40000" stroke="#000" stroke-width="0.7"/><circle cx="371.4" cy="188.62" r="4.3" fill="#C40000" stroke="#000" stroke-width="0.7"/><circle cx="391.62" cy="188.62" r="4.3" fill="#C40000" stroke="#000" stroke-width="0.7"/><circle cx="411.84" cy="188.62" r="4.3" fill="#C40000" stroke="#000" stroke-width="0.7"/><circle cx="270.3" cy="287.6" r="3.95" fill="#fff" stroke="#C40000" stroke-width="2.1"/><circle cx="290.52" cy="287.6" r="3.95" fill="#fff" stroke="#C40000" stroke-width="2.1"/><circle cx="310.74" cy="272.79" r="3.95" fill="#fff" stroke="#C40000" stroke-width="2.1"/><circle cx="330.96" cy="240.06" r="3.95" fill="#fff" stroke="#C40000" stroke-width="2.1"/><circle cx="351.18" cy="212.78" r="3.95" fill="#fff" stroke="#C40000" stroke-width="2.1"/><circle cx="371.4" cy="187.29" r="3.95" fill="#fff" stroke="#C40000" stroke-width="2.1"/><circle cx="391.62" cy="187.06" r="3.95" fill="#fff" stroke="#C40000" stroke-width="2.1"/><circle cx="411.84" cy="187.45" r="3.95" fill="#fff" stroke="#C40000" stroke-width="2.1"/><path d="M270.3 283.5 L274.7 291.7 L265.9 291.7 Z" fill="#00B0F0" stroke="#000" stroke-width="0.9" stroke-linejoin="round"/><path d="M290.52 253.1 L294.92 261.3 L286.12 261.3 Z" fill="#00B0F0" stroke="#000" stroke-width="0.9" stroke-linejoin="round"/><path d="M310.74 211.02 L315.14 219.22 L306.34 219.22 Z" fill="#00B0F0" stroke="#000" stroke-width="0.9" stroke-linejoin="round"/><path d="M330.96 200.11 L335.36 208.31 L326.56 208.31 Z" fill="#00B0F0" stroke="#000" stroke-width="0.9" stroke-linejoin="round"/><path d="M351.18 200.11 L355.58 208.31 L346.78 208.31 Z" fill="#00B0F0" stroke="#000" stroke-width="0.9" stroke-linejoin="round"/><path d="M371.4 196.99 L375.8 205.19 L367 205.19 Z" fill="#00B0F0" stroke="#000" stroke-width="0.9" stroke-linejoin="round"/><path d="M391.62 200.11 L396.02 208.31 L387.22 208.31 Z" fill="#00B0F0" stroke="#000" stroke-width="0.9" stroke-linejoin="round"/><path d="M411.84 196.99 L416.24 205.19 L407.44 205.19 Z" fill="#00B0F0" stroke="#000" stroke-width="0.9" stroke-linejoin="round"/></g><g><path d="M511 164.3 H676.9 V276.5" fill="none" stroke="#000" stroke-width="1.4"/><line x1="507" y1="276.5" x2="511" y2="276.5" stroke="#A8A8A8" stroke-width="1"/><line x1="507" y1="248.45" x2="511" y2="248.45" stroke="#A8A8A8" stroke-width="1"/><line x1="507" y1="220.4" x2="511" y2="220.4" stroke="#A8A8A8" stroke-width="1"/><line x1="507" y1="192.35" x2="511" y2="192.35" stroke="#A8A8A8" stroke-width="1"/><line x1="507" y1="164.3" x2="511" y2="164.3" stroke="#A8A8A8" stroke-width="1"/><line x1="511" y1="276.5" x2="511" y2="280.5" stroke="#A8A8A8" stroke-width="1"/><line x1="544.18" y1="276.5" x2="544.18" y2="280.5" stroke="#A8A8A8" stroke-width="1"/><line x1="577.36" y1="276.5" x2="577.36" y2="280.5" stroke="#A8A8A8" stroke-width="1"/><line x1="610.54" y1="276.5" x2="610.54" y2="280.5" stroke="#A8A8A8" stroke-width="1"/><line x1="643.72" y1="276.5" x2="643.72" y2="280.5" stroke="#A8A8A8" stroke-width="1"/><line x1="676.9" y1="276.5" x2="676.9" y2="280.5" stroke="#A8A8A8" stroke-width="1"/><path d="M511 163.3 V276.5 H677.9" fill="none" stroke="#555" stroke-width="1.8"/><text transform="translate(501.5,280.7) scale(0.89,1)" class="t" text-anchor="end" font-size="12" font-weight="bold">0</text><text transform="translate(501.5,252.65) scale(0.89,1)" class="t" text-anchor="end" font-size="12" font-weight="bold">1</text><text transform="translate(501.5,224.6) scale(0.89,1)" class="t" text-anchor="end" font-size="12" font-weight="bold">2</text><text transform="translate(501.5,196.55) scale(0.89,1)" class="t" text-anchor="end" font-size="12" font-weight="bold">3</text><text transform="translate(501.5,168.5) scale(0.89,1)" class="t" text-anchor="end" font-size="12" font-weight="bold">4</text><text transform="translate(510.4,292.8) scale(0.89,1)" class="t" text-anchor="middle" font-size="10.3" font-weight="bold">0</text><text transform="translate(543.58,292.8) scale(0.89,1)" class="t" text-anchor="middle" font-size="10.3" font-weight="bold">20</text><text transform="translate(576.76,292.8) scale(0.89,1)" class="t" text-anchor="middle" font-size="10.3" font-weight="bold">40</text><text transform="translate(609.94,292.8) scale(0.89,1)" class="t" text-anchor="middle" font-size="10.3" font-weight="bold">60</text><text transform="translate(643.12,292.8) scale(0.89,1)" class="t" text-anchor="middle" font-size="10.3" font-weight="bold">80</text><text transform="translate(676.3,292.8) scale(0.89,1)" class="t" text-anchor="middle" font-size="10.3" font-weight="bold">100</text><text x="516.2" y="181.2" font-size="15.5" font-weight="bold">f</text><text transform="translate(484.4,228.0) rotate(-90)" text-anchor="middle" font-size="14.5" font-weight="bold" textLength="103.2" lengthAdjust="spacingAndGlyphs">Acetic acid (g/L)</text><text x="594" y="308.5" text-anchor="middle" font-size="12" font-weight="bold" textLength="41.3" lengthAdjust="spacingAndGlyphs">Time (h)</text><polyline points="511,223.38 530.91,202.17 550.82,219.14 570.72,230.45 590.63,231.86 610.54,238.93 630.45,231.29 650.36,233.27" fill="none" stroke="#C40000" stroke-width="2" stroke-linejoin="round"/><polyline points="511,223.38 530.91,200.76 550.82,185.21 570.72,224.79 590.63,231.86 610.54,230.45 630.45,241.76 650.36,245.43" fill="none" stroke="#C40000" stroke-width="2" stroke-linejoin="round"/><polyline points="511,221.96 530.91,216.31 550.82,241.76 570.72,223.38 590.63,224.79 610.54,224.79 630.45,224.79 650.36,225.64" fill="none" stroke="#00B0F0" stroke-width="2" stroke-linejoin="round"/><path d="M511 224.79 V221.96 M508.5 224.79 H513.5 M508.5 221.96 H513.5" stroke="#000" stroke-width="0.8" fill="none"/><path d="M530.91 205 V199.34 M528.41 205 H533.41 M528.41 199.34 H533.41" stroke="#000" stroke-width="0.8" fill="none"/><path d="M550.82 221.96 V216.31 M548.32 221.96 H553.32 M548.32 216.31 H553.32" stroke="#000" stroke-width="0.8" fill="none"/><path d="M570.72 237.52 V223.38 M568.22 237.52 H573.22 M568.22 223.38 H573.22" stroke="#000" stroke-width="0.8" fill="none"/><path d="M590.63 234.69 V229.03 M588.13 234.69 H593.13 M588.13 229.03 H593.13" stroke="#000" stroke-width="0.8" fill="none"/><path d="M610.54 241.76 V236.1 M608.04 241.76 H613.04 M608.04 236.1 H613.04" stroke="#000" stroke-width="0.8" fill="none"/><path d="M630.45 234.12 V228.47 M627.95 234.12 H632.95 M627.95 228.47 H632.95" stroke="#000" stroke-width="0.8" fill="none"/><path d="M650.36 236.1 V230.45 M647.86 236.1 H652.86 M647.86 230.45 H652.86" stroke="#000" stroke-width="0.8" fill="none"/><path d="M511 224.79 V221.96 M508.5 224.79 H513.5 M508.5 221.96 H513.5" stroke="#000" stroke-width="0.8" fill="none"/><path d="M530.91 203.59 V197.93 M528.41 203.59 H533.41 M528.41 197.93 H533.41" stroke="#000" stroke-width="0.8" fill="none"/><path d="M550.82 196.52 V173.9 M548.32 196.52 H553.32 M548.32 173.9 H553.32" stroke="#000" stroke-width="0.8" fill="none"/><path d="M570.72 227.62 V221.96 M568.22 227.62 H573.22 M568.22 221.96 H573.22" stroke="#000" stroke-width="0.8" fill="none"/><path d="M590.63 240.34 V223.38 M588.13 240.34 H593.13 M588.13 223.38 H593.13" stroke="#000" stroke-width="0.8" fill="none"/><path d="M610.54 233.27 V227.62 M608.04 233.27 H613.04 M608.04 227.62 H613.04" stroke="#000" stroke-width="0.8" fill="none"/><path d="M630.45 244.58 V238.93 M627.95 244.58 H632.95 M627.95 238.93 H632.95" stroke="#000" stroke-width="0.8" fill="none"/><path d="M650.36 260.98 V229.88 M647.86 260.98 H652.86 M647.86 229.88 H652.86" stroke="#000" stroke-width="0.8" fill="none"/><path d="M511 223.38 V220.55 M508.5 223.38 H513.5 M508.5 220.55 H513.5" stroke="#000" stroke-width="0.8" fill="none"/><path d="M530.91 223.38 V209.24 M528.41 223.38 H533.41 M528.41 209.24 H533.41" stroke="#000" stroke-width="0.8" fill="none"/><path d="M550.82 247.41 V236.1 M548.32 247.41 H553.32 M548.32 236.1 H553.32" stroke="#000" stroke-width="0.8" fill="none"/><path d="M570.72 238.93 V207.83 M568.22 238.93 H573.22 M568.22 207.83 H573.22" stroke="#000" stroke-width="0.8" fill="none"/><path d="M590.63 227.62 V221.96 M588.13 227.62 H593.13 M588.13 221.96 H593.13" stroke="#000" stroke-width="0.8" fill="none"/><path d="M610.54 236.1 V213.48 M608.04 236.1 H613.04 M608.04 213.48 H613.04" stroke="#000" stroke-width="0.8" fill="none"/><path d="M630.45 227.62 V221.96 M627.95 227.62 H632.95 M627.95 221.96 H632.95" stroke="#000" stroke-width="0.8" fill="none"/><path d="M650.36 228.47 V222.81 M647.86 228.47 H652.86 M647.86 222.81 H652.86" stroke="#000" stroke-width="0.8" fill="none"/><circle cx="511" cy="223.38" r="4.3" fill="#C40000" stroke="#000" stroke-width="0.7"/><circle cx="530.91" cy="202.17" r="4.3" fill="#C40000" stroke="#000" stroke-width="0.7"/><circle cx="550.82" cy="219.14" r="4.3" fill="#C40000" stroke="#000" stroke-width="0.7"/><circle cx="570.72" cy="230.45" r="4.3" fill="#C40000" stroke="#000" stroke-width="0.7"/><circle cx="590.63" cy="231.86" r="4.3" fill="#C40000" stroke="#000" stroke-width="0.7"/><circle cx="610.54" cy="238.93" r="4.3" fill="#C40000" stroke="#000" stroke-width="0.7"/><circle cx="630.45" cy="231.29" r="4.3" fill="#C40000" stroke="#000" stroke-width="0.7"/><circle cx="650.36" cy="233.27" r="4.3" fill="#C40000" stroke="#000" stroke-width="0.7"/><circle cx="511" cy="223.38" r="3.95" fill="#fff" stroke="#C40000" stroke-width="2.1"/><circle cx="530.91" cy="200.76" r="3.95" fill="#fff" stroke="#C40000" stroke-width="2.1"/><circle cx="550.82" cy="185.21" r="3.95" fill="#fff" stroke="#C40000" stroke-width="2.1"/><circle cx="570.72" cy="224.79" r="3.95" fill="#fff" stroke="#C40000" stroke-width="2.1"/><circle cx="590.63" cy="231.86" r="3.95" fill="#fff" stroke="#C40000" stroke-width="2.1"/><circle cx="610.54" cy="230.45" r="3.95" fill="#fff" stroke="#C40000" stroke-width="2.1"/><circle cx="630.45" cy="241.76" r="3.95" fill="#fff" stroke="#C40000" stroke-width="2.1"/><circle cx="650.36" cy="245.43" r="3.95" fill="#fff" stroke="#C40000" stroke-width="2.1"/><path d="M511 217.86 L515.4 226.06 L506.6 226.06 Z" fill="#00B0F0" stroke="#000" stroke-width="0.9" stroke-linejoin="round"/><path d="M530.91 212.21 L535.31 220.41 L526.51 220.41 Z" fill="#00B0F0" stroke="#000" stroke-width="0.9" stroke-linejoin="round"/><path d="M550.82 237.66 L555.22 245.86 L546.42 245.86 Z" fill="#00B0F0" stroke="#000" stroke-width="0.9" stroke-linejoin="round"/><path d="M570.72 219.28 L575.12 227.48 L566.32 227.48 Z" fill="#00B0F0" stroke="#000" stroke-width="0.9" stroke-linejoin="round"/><path d="M590.63 220.69 L595.03 228.89 L586.23 228.89 Z" fill="#00B0F0" stroke="#000" stroke-width="0.9" stroke-linejoin="round"/><path d="M610.54 220.69 L614.94 228.89 L606.14 228.89 Z" fill="#00B0F0" stroke="#000" stroke-width="0.9" stroke-linejoin="round"/><path d="M630.45 220.69 L634.85 228.89 L626.05 228.89 Z" fill="#00B0F0" stroke="#000" stroke-width="0.9" stroke-linejoin="round"/><path d="M650.36 221.54 L654.76 229.74 L645.96 229.74 Z" fill="#00B0F0" stroke="#000" stroke-width="0.9" stroke-linejoin="round"/></g><g><path d="M53.7 321.1 H209.3 V442.5" fill="none" stroke="#000" stroke-width="1.8"/><line x1="49.7" y1="442.5" x2="53.7" y2="442.5" stroke="#A8A8A8" stroke-width="1"/><line x1="49.7" y1="422.27" x2="53.7" y2="422.27" stroke="#A8A8A8" stroke-width="1"/><line x1="49.7" y1="402.03" x2="53.7" y2="402.03" stroke="#A8A8A8" stroke-width="1"/><line x1="49.7" y1="381.8" x2="53.7" y2="381.8" stroke="#A8A8A8" stroke-width="1"/><line x1="49.7" y1="361.57" x2="53.7" y2="361.57" stroke="#A8A8A8" stroke-width="1"/><line x1="49.7" y1="341.33" x2="53.7" y2="341.33" stroke="#A8A8A8" stroke-width="1"/><line x1="49.7" y1="321.1" x2="53.7" y2="321.1" stroke="#A8A8A8" stroke-width="1"/><line x1="53.95" y1="442.5" x2="53.95" y2="446.5" stroke="#A8A8A8" stroke-width="1"/><line x1="85.07" y1="442.5" x2="85.07" y2="446.5" stroke="#A8A8A8" stroke-width="1"/><line x1="116.19" y1="442.5" x2="116.19" y2="446.5" stroke="#A8A8A8" stroke-width="1"/><line x1="147.31" y1="442.5" x2="147.31" y2="446.5" stroke="#A8A8A8" stroke-width="1"/><line x1="178.43" y1="442.5" x2="178.43" y2="446.5" stroke="#A8A8A8" stroke-width="1"/><line x1="209.55" y1="442.5" x2="209.55" y2="446.5" stroke="#A8A8A8" stroke-width="1"/><path d="M53.7 320.1 V442.5 H210.3" fill="none" stroke="#5a5a5a" stroke-width="2.4"/><text transform="translate(44.2,446.7) scale(0.89,1)" class="t" text-anchor="end" font-size="12" font-weight="bold">0</text><text transform="translate(44.2,426.47) scale(0.89,1)" class="t" text-anchor="end" font-size="12" font-weight="bold">0.5</text><text transform="translate(44.2,406.23) scale(0.89,1)" class="t" text-anchor="end" font-size="12" font-weight="bold">1</text><text transform="translate(44.2,386) scale(0.89,1)" class="t" text-anchor="end" font-size="12" font-weight="bold">1.5</text><text transform="translate(44.2,365.77) scale(0.89,1)" class="t" text-anchor="end" font-size="12" font-weight="bold">2</text><text transform="translate(44.2,345.53) scale(0.89,1)" class="t" text-anchor="end" font-size="12" font-weight="bold">2.5</text><text transform="translate(44.2,325.3) scale(0.89,1)" class="t" text-anchor="end" font-size="12" font-weight="bold">3</text><text transform="translate(53.15,459.4) scale(0.89,1)" class="t" text-anchor="middle" font-size="10.3" font-weight="bold">0</text><text transform="translate(84.27,459.4) scale(0.89,1)" class="t" text-anchor="middle" font-size="10.3" font-weight="bold">20</text><text transform="translate(115.39,459.4) scale(0.89,1)" class="t" text-anchor="middle" font-size="10.3" font-weight="bold">40</text><text transform="translate(146.51,459.4) scale(0.89,1)" class="t" text-anchor="middle" font-size="10.3" font-weight="bold">60</text><text transform="translate(177.63,459.4) scale(0.89,1)" class="t" text-anchor="middle" font-size="10.3" font-weight="bold">80</text><text transform="translate(208.75,459.4) scale(0.89,1)" class="t" text-anchor="middle" font-size="10.3" font-weight="bold">100</text><text x="58.6" y="335" font-size="17" font-weight="bold">g</text><text transform="translate(14.3,381.0) rotate(-90)" text-anchor="middle" font-size="14.5" font-weight="bold" textLength="107.8" lengthAdjust="spacingAndGlyphs">Butyric acid (g/L)</text><text x="130.8" y="477.3" text-anchor="middle" font-size="12" font-weight="bold" textLength="46" lengthAdjust="spacingAndGlyphs">Time (h)</text><polyline points="53.95,443.1 72.62,366.46 91.29,385.21 109.97,383.99 128.64,381.95 147.31,377.06 165.98,376.65 184.65,375.02" fill="none" stroke="#C40000" stroke-width="2" stroke-linejoin="round"/><polyline points="53.95,443.1 72.62,357.49 91.29,341.18 109.97,375.02 128.64,383.99 147.31,381.13 165.98,383.99 184.65,383.58" fill="none" stroke="#C40000" stroke-width="2" stroke-linejoin="round"/><polyline points="53.95,443.1 72.62,369.72 91.29,379.91 109.97,379.91 128.64,381.13 147.31,378.69 165.98,378.69 184.65,378.69" fill="none" stroke="#00B0F0" stroke-width="2" stroke-linejoin="round"/><path d="M72.62 368.5 V364.42 M70.12 368.5 H75.12 M70.12 364.42 H75.12" stroke="#000" stroke-width="0.8" fill="none"/><path d="M91.29 387.25 V383.17 M88.79 387.25 H93.79 M88.79 383.17 H93.79" stroke="#000" stroke-width="0.8" fill="none"/><path d="M109.97 386.03 V381.95 M107.47 386.03 H112.47 M107.47 381.95 H112.47" stroke="#000" stroke-width="0.8" fill="none"/><path d="M128.64 386.03 V377.87 M126.14 386.03 H131.14 M126.14 377.87 H131.14" stroke="#000" stroke-width="0.8" fill="none"/><path d="M147.31 383.17 V370.94 M144.81 383.17 H149.81 M144.81 370.94 H149.81" stroke="#000" stroke-width="0.8" fill="none"/><path d="M165.98 380.73 V372.57 M163.48 380.73 H168.48 M163.48 372.57 H168.48" stroke="#000" stroke-width="0.8" fill="none"/><path d="M184.65 377.06 V372.98 M182.15 377.06 H187.15 M182.15 372.98 H187.15" stroke="#000" stroke-width="0.8" fill="none"/><path d="M72.62 359.53 V355.45 M70.12 359.53 H75.12 M70.12 355.45 H75.12" stroke="#000" stroke-width="0.8" fill="none"/><path d="M91.29 343.22 V339.15 M88.79 343.22 H93.79 M88.79 339.15 H93.79" stroke="#000" stroke-width="0.8" fill="none"/><path d="M109.97 379.1 V370.94 M107.47 379.1 H112.47 M107.47 370.94 H112.47" stroke="#000" stroke-width="0.8" fill="none"/><path d="M128.64 388.07 V379.91 M126.14 388.07 H131.14 M126.14 379.91 H131.14" stroke="#000" stroke-width="0.8" fill="none"/><path d="M147.31 391.33 V370.94 M144.81 391.33 H149.81 M144.81 370.94 H149.81" stroke="#000" stroke-width="0.8" fill="none"/><path d="M165.98 392.14 V375.84 M163.48 392.14 H168.48 M163.48 375.84 H168.48" stroke="#000" stroke-width="0.8" fill="none"/><path d="M184.65 385.62 V381.54 M182.15 385.62 H187.15 M182.15 381.54 H187.15" stroke="#000" stroke-width="0.8" fill="none"/><path d="M72.62 371.76 V367.68 M70.12 371.76 H75.12 M70.12 367.68 H75.12" stroke="#000" stroke-width="0.8" fill="none"/><path d="M91.29 383.99 V375.84 M88.79 383.99 H93.79 M88.79 375.84 H93.79" stroke="#000" stroke-width="0.8" fill="none"/><path d="M109.97 381.95 V377.87 M107.47 381.95 H112.47 M107.47 377.87 H112.47" stroke="#000" stroke-width="0.8" fill="none"/><path d="M128.64 393.36 V368.9 M126.14 393.36 H131.14 M126.14 368.9 H131.14" stroke="#000" stroke-width="0.8" fill="none"/><path d="M147.31 386.84 V370.54 M144.81 386.84 H149.81 M144.81 370.54 H149.81" stroke="#000" stroke-width="0.8" fill="none"/><path d="M165.98 386.84 V370.54 M163.48 386.84 H168.48 M163.48 370.54 H168.48" stroke="#000" stroke-width="0.8" fill="none"/><path d="M184.65 380.73 V376.65 M182.15 380.73 H187.15 M182.15 376.65 H187.15" stroke="#000" stroke-width="0.8" fill="none"/><circle cx="53.95" cy="443.1" r="4.3" fill="#C40000" stroke="#000" stroke-width="0.7"/><circle cx="72.62" cy="366.46" r="4.3" fill="#C40000" stroke="#000" stroke-width="0.7"/><circle cx="91.29" cy="385.21" r="4.3" fill="#C40000" stroke="#000" stroke-width="0.7"/><circle cx="109.97" cy="383.99" r="4.3" fill="#C40000" stroke="#000" stroke-width="0.7"/><circle cx="128.64" cy="381.95" r="4.3" fill="#C40000" stroke="#000" stroke-width="0.7"/><circle cx="147.31" cy="377.06" r="4.3" fill="#C40000" stroke="#000" stroke-width="0.7"/><circle cx="165.98" cy="376.65" r="4.3" fill="#C40000" stroke="#000" stroke-width="0.7"/><circle cx="184.65" cy="375.02" r="4.3" fill="#C40000" stroke="#000" stroke-width="0.7"/><circle cx="53.95" cy="443.1" r="3.95" fill="#fff" stroke="#C40000" stroke-width="2.1"/><circle cx="72.62" cy="357.49" r="3.95" fill="#fff" stroke="#C40000" stroke-width="2.1"/><circle cx="91.29" cy="341.18" r="3.95" fill="#fff" stroke="#C40000" stroke-width="2.1"/><circle cx="109.97" cy="375.02" r="3.95" fill="#fff" stroke="#C40000" stroke-width="2.1"/><circle cx="128.64" cy="383.99" r="3.95" fill="#fff" stroke="#C40000" stroke-width="2.1"/><circle cx="147.31" cy="381.13" r="3.95" fill="#fff" stroke="#C40000" stroke-width="2.1"/><circle cx="165.98" cy="383.99" r="3.95" fill="#fff" stroke="#C40000" stroke-width="2.1"/><circle cx="184.65" cy="383.58" r="3.95" fill="#fff" stroke="#C40000" stroke-width="2.1"/><path d="M53.95 439 L58.35 447.2 L49.55 447.2 Z" fill="#00B0F0" stroke="#000" stroke-width="0.9" stroke-linejoin="round"/><path d="M72.62 365.62 L77.02 373.82 L68.22 373.82 Z" fill="#00B0F0" stroke="#000" stroke-width="0.9" stroke-linejoin="round"/><path d="M91.29 375.81 L95.69 384.01 L86.89 384.01 Z" fill="#00B0F0" stroke="#000" stroke-width="0.9" stroke-linejoin="round"/><path d="M109.97 375.81 L114.37 384.01 L105.57 384.01 Z" fill="#00B0F0" stroke="#000" stroke-width="0.9" stroke-linejoin="round"/><path d="M128.64 377.03 L133.04 385.23 L124.24 385.23 Z" fill="#00B0F0" stroke="#000" stroke-width="0.9" stroke-linejoin="round"/><path d="M147.31 374.59 L151.71 382.79 L142.91 382.79 Z" fill="#00B0F0" stroke="#000" stroke-width="0.9" stroke-linejoin="round"/><path d="M165.98 374.59 L170.38 382.79 L161.58 382.79 Z" fill="#00B0F0" stroke="#000" stroke-width="0.9" stroke-linejoin="round"/><path d="M184.65 374.59 L189.05 382.79 L180.25 382.79 Z" fill="#00B0F0" stroke="#000" stroke-width="0.9" stroke-linejoin="round"/></g><line x1="253.2" y1="365.9" x2="275.1" y2="365.9" stroke="#C40000" stroke-width="2"/><circle cx="264.2" cy="365.9" r="4.3" fill="#C40000" stroke="#000" stroke-width="0.7"/><line x1="253.2" y1="385.5" x2="275.1" y2="385.5" stroke="#C40000" stroke-width="2"/><circle cx="264.2" cy="385.5" r="3.95" fill="#fff" stroke="#C40000" stroke-width="2.1"/><line x1="253.2" y1="405.6" x2="275.1" y2="405.6" stroke="#00B0F0" stroke-width="2"/><path d="M264.2 401.5 L268.59999999999997 409.70000000000005 L259.8 409.70000000000005 Z" fill="#00B0F0" stroke="#000" stroke-width="0.9" stroke-linejoin="round"/><text x="284.6" y="368.8" font-size="11.8" font-weight="bold"><tspan font-style="italic">Cb</tspan> pWUR459_<tspan font-style="italic">gldA1</tspan></text><text x="282.4" y="388.9" font-size="11.8" font-weight="bold"><tspan font-style="italic">Cb</tspan> pWUR459_<tspan font-style="italic">dhaD1</tspan></text><text x="281.6" y="409.2" font-size="11.8" font-weight="bold"><tspan font-style="italic">Cb</tspan> empty plasmid (Control)</text></svg>
</body></html>
